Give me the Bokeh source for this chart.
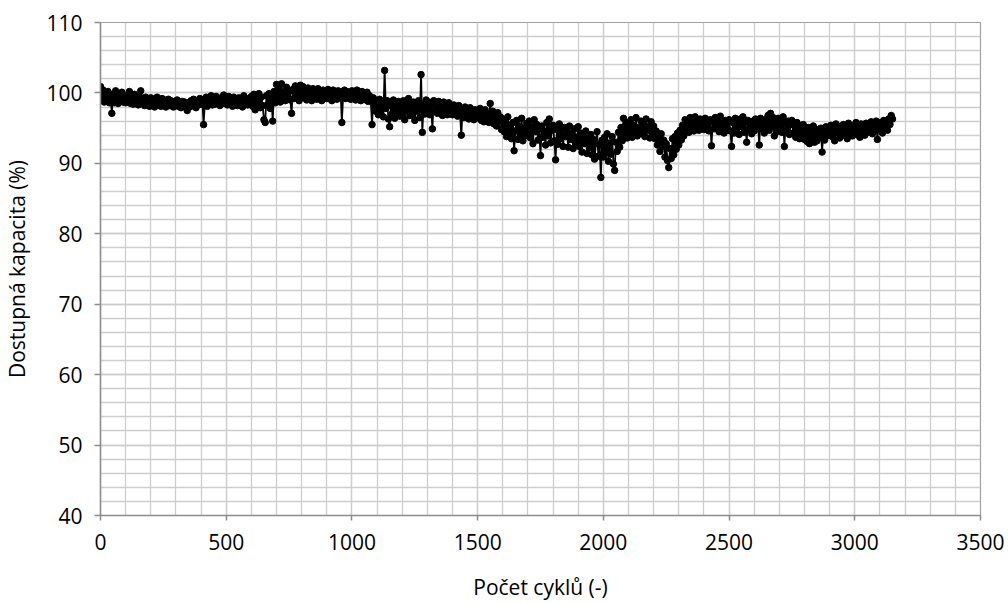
from bokeh.plotting import figure
from bokeh.models import Range1d, SingleIntervalTicker, ColumnDataSource
from bokeh.embed import file_html
from bokeh.resources import INLINE

# Cycle numbers (every 5 cycles) and available capacity in percent
cycles = list(range(0, 3155, 5))

capacity = [
    100.9, 99.2, 100.4, 98.7, 99.9, 98.9, 100.2, 98.6, 99.5, 97.1,      # 0
    99.8, 98.6, 100.3, 99.0, 98.5, 99.7, 98.8, 100.1, 98.7, 99.4,       # 50
    98.6, 99.6, 98.9, 100.2, 98.5, 99.3, 98.4, 99.8, 98.7, 99.1,        # 100
    98.3, 99.5, 100.3, 98.6, 99.2, 98.2, 99.4, 98.7, 99.0, 98.1,        # 150
    99.3, 98.4, 99.1, 98.0, 98.9, 99.4, 98.3, 98.8, 98.1, 99.2,         # 200
    98.5, 99.0, 98.0, 98.7, 99.1, 98.2, 98.9, 98.4, 98.0, 98.8,         # 250
    98.3, 99.0, 98.1, 98.6, 97.9, 98.8, 98.2, 98.7, 98.0, 97.5,         # 300
    98.6, 98.0, 98.9, 98.2, 99.1, 98.4, 97.9, 98.8, 98.3, 99.2,         # 350
    98.4, 99.0, 95.5, 98.6, 99.4, 98.1, 99.2, 98.5, 99.6, 98.3,         # 400
    99.1, 98.4, 99.5, 98.7, 99.0, 98.2, 99.3, 98.6, 99.7, 98.5,         # 450
    99.2, 98.3, 99.5, 98.8, 99.0, 98.1, 99.4, 98.6, 99.1, 98.2,         # 500
    99.3, 98.5, 99.0, 98.0, 99.6, 98.7, 99.2, 98.3, 99.0, 98.4,         # 550
    99.5, 98.1, 99.8, 97.6, 99.2, 98.4, 99.9, 97.9, 99.4, 98.2,         # 600
    96.2, 95.8, 99.6, 98.3, 99.9, 97.8, 99.3, 96.0, 100.2, 98.6,        # 650
    101.2, 99.1, 100.4, 98.7, 101.3, 99.4, 100.1, 98.9, 100.8, 99.5,    # 700
    100.2, 99.0, 97.1, 100.5, 99.2, 101.0, 99.6, 100.3, 98.9, 101.1,    # 750
    99.7, 100.9, 99.3, 100.4, 99.0, 100.7, 99.5, 100.2, 98.9, 100.6,    # 800
    99.4, 100.3, 99.1, 100.6, 99.6, 100.0, 98.9, 100.4, 99.3, 100.1,    # 850
    99.2, 100.5, 99.5, 100.2, 98.9, 100.4, 99.3, 100.0, 99.1, 100.3,    # 900
    99.4, 100.1, 95.8, 99.6, 100.4, 99.2, 100.2, 99.5, 100.0, 99.1,     # 950
    100.3, 99.4, 100.1, 99.0, 100.4, 99.6, 99.9, 98.9, 100.2, 99.3,     # 1000
    99.8, 99.0, 100.1, 98.8, 99.6, 98.9, 95.5, 99.3, 98.1, 97.4,        # 1050
    98.6, 96.9, 99.1, 97.5, 98.4, 96.6, 103.2, 97.8, 98.9, 96.3,        # 1100
    95.2, 98.2, 97.0, 99.0, 96.4, 98.5, 97.3, 98.8, 96.7, 98.0,         # 1150
    97.1, 98.9, 96.2, 98.4, 97.5, 99.2, 96.8, 98.3, 97.0, 98.7,         # 1200
    96.1, 98.1, 97.4, 98.9, 96.5, 102.6, 94.4, 98.4, 97.0, 99.0,        # 1250
    97.6, 98.7, 96.9, 98.3, 94.9, 98.9, 97.4, 98.5, 97.1, 98.8,         # 1300
    97.3, 98.4, 96.8, 98.7, 97.5, 98.2, 96.9, 98.6, 97.2, 98.1,         # 1350
    96.9, 98.3, 97.4, 97.9, 96.7, 98.2, 97.0, 94.0, 97.6, 96.5,         # 1400
    98.0, 96.8, 97.7, 96.3, 97.9, 96.9, 97.4, 96.2, 97.6, 96.7,         # 1450
    97.5, 96.4, 97.8, 96.1, 97.2, 95.9, 97.6, 96.5, 97.0, 95.8,         # 1500
    98.5, 96.3, 97.4, 95.6, 96.9, 95.3, 97.2, 96.0, 96.6, 94.8,         # 1550
    96.3, 94.5, 95.9, 93.8, 96.6, 94.2, 95.4, 93.5, 95.8, 91.8,         # 1600
    94.6, 96.1, 93.4, 95.3, 94.0, 96.4, 93.2, 95.0, 93.9, 95.7,         # 1650
    94.3, 96.0, 93.6, 95.2, 92.8, 96.2, 94.5, 95.5, 93.3, 94.9,         # 1700
    91.1, 95.3, 93.7, 94.6, 92.6, 95.8, 93.9, 96.3, 92.9, 94.7,         # 1750
    95.4, 93.2, 90.5, 94.8, 92.7, 95.6, 93.5, 94.9, 92.4, 95.1,         # 1800
    93.8, 94.6, 92.3, 95.3, 93.4, 94.2, 92.1, 94.9, 93.0, 93.7,         # 1850
    95.2, 92.4, 94.3, 91.6, 93.9, 92.8, 94.6, 91.4, 93.5, 92.2,         # 1900
    94.1, 91.2, 93.4, 90.6, 92.8, 94.5, 91.0, 92.6, 88.0, 93.3,         # 1950
    90.9, 93.7, 91.5, 94.2, 90.3, 92.9, 91.3, 93.8, 89.9, 89.0,         # 2000
    93.0, 91.7, 94.4, 92.3, 95.1, 93.2, 96.4, 94.0, 95.5, 93.6,         # 2050
    95.8, 94.0, 96.2, 93.7, 95.4, 94.6, 96.5, 93.9, 95.1, 94.4,         # 2100
    96.0, 94.2, 95.6, 93.8, 96.3, 94.7, 95.2, 93.6, 95.9, 94.3,         # 2150
    95.3, 93.5, 94.6, 92.6, 93.9, 91.7, 94.2, 92.4, 93.3, 90.9,         # 2200
    92.8, 90.4, 89.4, 92.1, 90.7, 93.5, 91.2, 93.8, 92.0, 94.3,         # 2250
    92.6, 94.7, 93.3, 95.4, 93.9, 96.2, 94.8, 95.7, 94.4, 96.5,         # 2300
    95.0, 96.1, 94.6, 96.6, 95.2, 95.9, 94.7, 96.3, 95.1, 96.0,         # 2350
    94.8, 96.4, 95.3, 95.8, 94.6, 96.2, 92.5, 95.9, 94.9, 96.5,         # 2400
    95.2, 96.0, 94.5, 96.7, 95.0, 95.7, 94.3, 96.1, 95.4, 94.7,         # 2450
    96.2, 94.6, 92.4, 95.8, 94.3, 96.4, 95.0, 95.6, 94.1, 96.3,         # 2500
    95.2, 96.6, 94.4, 95.9, 93.0, 96.1, 94.8, 95.5, 94.2, 96.0,         # 2550
    94.6, 96.3, 95.1, 95.8, 92.6, 96.4, 94.9, 95.6, 94.3, 96.2,         # 2600
    95.0, 96.8, 94.7, 97.1, 95.3, 96.5, 93.9, 95.8, 94.5, 96.4,         # 2650
    95.2, 96.1, 94.4, 96.6, 92.4, 95.7, 94.6, 96.0, 94.1, 95.5,         # 2700
    96.1, 94.3, 95.4, 93.7, 95.8, 94.6, 93.5, 95.2, 94.0, 95.5,         # 2750
    93.4, 94.9, 93.1, 95.1, 92.8, 94.6, 93.6, 95.3, 93.0, 94.4,         # 2800
    93.2, 94.8, 93.7, 95.0, 91.6, 94.5, 93.3, 95.2, 93.9, 94.7,         # 2850
    94.1, 95.4, 93.8, 95.1, 93.2, 95.6, 94.3, 95.0, 93.6, 95.3,         # 2900
    94.0, 95.5, 94.4, 95.2, 93.5, 95.7, 94.2, 95.0, 93.9, 95.4,         # 2950
    94.5, 95.8, 94.1, 95.3, 93.7, 95.6, 94.6, 95.1, 94.0, 95.7,         # 3000
    94.4, 95.5, 94.8, 95.9, 94.2, 95.3, 94.6, 96.0, 93.4, 95.6,         # 3050
    94.9, 95.8, 94.3, 96.1, 95.2, 95.7, 94.7, 96.3, 95.5, 96.8,         # 3100
    96.3,                                                               # 3150
]

x_title = "Počet cyklů (-)"
y_title = "Dostupná kapacita (%)"

FONT = "Open Sans"
GRID = "#cdcdcd"
AXIS = "#8c8c8c"

src = ColumnDataSource(data=dict(x=cycles, y=capacity))

p = figure(
    width=1008, height=603,
    output_backend="svg", toolbar_location=None,
    x_range=Range1d(0, 3500), y_range=Range1d(40, 110),
    min_border_left=98, min_border_right=28,
    min_border_top=22, min_border_bottom=88,
)
p.background_fill_color = "white"
p.border_fill_color = "white"
p.outline_line_color = "#a0a0a0"
p.outline_line_width = 1.2

p.xaxis.ticker = SingleIntervalTicker(interval=500, num_minor_ticks=5)
p.yaxis.ticker = SingleIntervalTicker(interval=10, num_minor_ticks=5)

for ax in (p.xaxis, p.yaxis):
    ax.axis_line_color = AXIS
    ax.axis_line_width = 1.5
    ax.major_tick_line_color = AXIS
    ax.major_tick_line_width = 1.5
    ax.major_tick_in = 0
    ax.minor_tick_in = 0
    ax.minor_tick_out = 0
    ax.major_label_text_font = FONT
    ax.major_label_text_font_size = "21px"
    ax.major_label_text_color = "black"
    ax.axis_label_text_font = FONT
    ax.axis_label_text_font_size = "21px"
    ax.axis_label_text_font_style = "normal"
    ax.axis_label_text_color = "black"

p.xaxis.major_tick_out = 5
p.yaxis.major_tick_out = 6
p.xaxis.major_label_standoff = 13
p.yaxis.major_label_standoff = 12
p.xaxis.axis_label_standoff = 20
p.yaxis.axis_label_standoff = 12
p.xaxis.axis_label = x_title
p.yaxis.axis_label = y_title

for g in (p.xgrid, p.ygrid):
    g.grid_line_color = GRID
    g.grid_line_width = 1.3
    g.minor_grid_line_color = GRID
    g.minor_grid_line_width = 1.3

p.line("x", "y", source=src, line_color="black", line_width=1.8)
p.scatter("x", "y", source=src, size=6.5, marker="circle",
          fill_color="black", line_color="black")

open("out.html", "w").write(file_html(p, INLINE))
